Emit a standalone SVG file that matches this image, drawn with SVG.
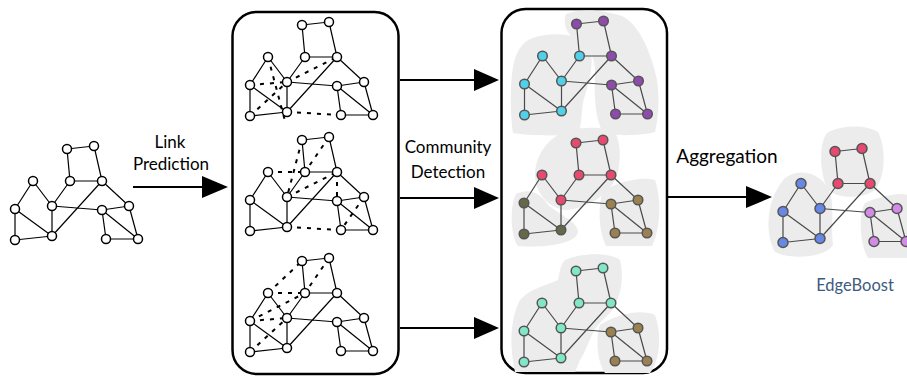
<svg xmlns="http://www.w3.org/2000/svg" xmlns:xlink="http://www.w3.org/1999/xlink" width="907" height="376" viewBox="0 0 907 376">
<style>
.lbl{font-family:Lato,"Open Sans","DejaVu Sans",sans-serif;fill:#000;text-anchor:middle}
.e{fill:none;stroke:#000;stroke-width:1.2}
.ec{fill:none;stroke:#4a4a4a;stroke-width:1.2}
.d{fill:none;stroke:#000;stroke-width:2;stroke-dasharray:4 6}
.wn{fill:#fff;stroke:#000;stroke-width:1.5}
.c circle{stroke:#555;stroke-width:1.5}
.blob{fill:#ececec}
.cy{fill:#50d0ea}.pu{fill:#8e4aad}.pk{fill:#e84a6f}.ol{fill:#666849}.br{fill:#9b8050}.mt{fill:#80e8c8}.bl{fill:#6888e8}.lv{fill:#d48be8}
.frame{fill:none;stroke:#000;stroke-width:2.5}
.arr{stroke:#000;stroke-width:2}
</style>
<defs>
<path id="edges" d="M67,149L94,146 M67,149L70,181 M94,146L102,181 M70,181L102,181 M70,181L52,206 M102,181L52,236 M102,181L129,206 M33,181L15,209 M33,181L52,206 M15,209L15,240 M15,209L52,236 M52,206L52,236 M52,206L102,210 M102,210L129,206 M102,210L106,239 M102,210L138,239 M129,206L138,239 M106,239L138,239 M15,240L52,236"/>
<g id="wnodes">
<circle cx="67" cy="149" r="4.5"/><circle cx="94" cy="146" r="4.5"/><circle cx="33" cy="181" r="4.5"/><circle cx="70" cy="181" r="4.5"/><circle cx="102" cy="181" r="4.5"/><circle cx="15" cy="209" r="4.5"/><circle cx="52" cy="206" r="4.5"/><circle cx="102" cy="210" r="4.5"/><circle cx="129" cy="206" r="4.5"/><circle cx="15" cy="240" r="4.5"/><circle cx="52" cy="236" r="4.5"/><circle cx="106" cy="239" r="4.5"/><circle cx="138" cy="239" r="4.5"/>
</g>
</defs>

<g id="input-graph">
<use xlink:href="#edges" href="#edges" class="e"/>
<use xlink:href="#wnodes" href="#wnodes" class="wn"/>
</g>

<g id="link-prediction-panel">
<rect class="frame" x="232.5" y="12" width="166" height="362" rx="24"/>
<g id="lp-graph-1" transform="translate(235,-124)">
<use xlink:href="#edges" href="#edges" class="e"/>
<path class="d" d="M15,209L52,206 M52,206L102,181 M33,181L50,245 M15,240L52,206 M52,236L106,239"/>
<use xlink:href="#wnodes" href="#wnodes" class="wn"/>
</g>
<g id="lp-graph-2" transform="translate(235,-9)">
<use xlink:href="#edges" href="#edges" class="e"/>
<path class="d" d="M67,149L52,206 M94,146L70,181 M33,181L70,181 M52,206L102,181 M102,181L102,210 M129,206L106,239 M52,236L106,239"/>
<use xlink:href="#wnodes" href="#wnodes" class="wn"/>
</g>
<g id="lp-graph-3" transform="translate(235,112)">
<use xlink:href="#edges" href="#edges" class="e"/>
<path class="d" d="M33,181L67,149 M94,146L70,181 M33,181L70,181 M15,209L52,206 M15,209L70,181 M15,240L52,206"/>
<use xlink:href="#wnodes" href="#wnodes" class="wn"/>
</g>
</g>

<g id="community-detection-panel">
<rect class="frame" x="501.5" y="9" width="165.5" height="364" rx="24"/>
<g id="cd-graph-1">
<path class="blob" d="M533,38 C550,32 575,33 587,43 C596,55 590,80 585,95 C580,110 583,122 578,134 C560,136 530,136 513,133 C510,110 510,80 514,62 C518,48 524,41 533,38 Z"/>
<path class="blob" d="M566,14 C580,8 605,10 622,16 C640,25 652,55 657,80 C660,100 658,120 655,132 C640,136 615,136 603,133 C596,120 594,100 595,80 C596,62 592,48 580,42 C568,37 562,25 566,14 Z"/>
<g class="c" transform="translate(509.5,-125)">
<use xlink:href="#edges" href="#edges" class="ec"/>
<circle class="pu" cx="67" cy="149" r="4.8"/><circle class="pu" cx="94" cy="146" r="4.8"/><circle class="cy" cx="33" cy="181" r="4.8"/><circle class="cy" cx="70" cy="181" r="4.8"/><circle class="pu" cx="102" cy="181" r="4.8"/><circle class="cy" cx="15" cy="209" r="4.8"/><circle class="cy" cx="52" cy="206" r="4.8"/><circle class="pu" cx="102" cy="210" r="4.8"/><circle class="pu" cx="129" cy="206" r="4.8"/><circle class="cy" cx="15" cy="240" r="4.8"/><circle class="cy" cx="52" cy="236" r="4.8"/><circle class="pu" cx="106" cy="239" r="4.8"/><circle class="pu" cx="138" cy="239" r="4.8"/>
</g>
</g>
<g id="cd-graph-2">
<path class="blob" d="M566,131 C585,126 605,127 615,132 C622,145 621,170 614,182 C605,196 585,210 565,210 C548,208 535,192 535,175 C535,155 548,138 566,131 Z"/>
<path class="blob" d="M516,194 C528,188 540,192 548,205 C560,215 578,222 578,232 C576,245 540,248 518,246 C510,235 510,205 516,194 Z"/>
<path class="blob" d="M603,190 C620,182 640,176 655,180 C662,200 660,230 652,246 L606,246 C598,230 598,205 603,190 Z"/>
<g class="c" transform="translate(509,-6)">
<use xlink:href="#edges" href="#edges" class="ec"/>
<circle class="pk" cx="67" cy="149" r="4.8"/><circle class="pk" cx="94" cy="146" r="4.8"/><circle class="pk" cx="33" cy="181" r="4.8"/><circle class="pk" cx="70" cy="181" r="4.8"/><circle class="pk" cx="102" cy="181" r="4.8"/><circle class="ol" cx="15" cy="209" r="4.8"/><circle class="pk" cx="52" cy="206" r="4.8"/><circle class="br" cx="102" cy="210" r="4.8"/><circle class="br" cx="129" cy="206" r="4.8"/><circle class="ol" cx="15" cy="240" r="4.8"/><circle class="ol" cx="52" cy="236" r="4.8"/><circle class="br" cx="106" cy="239" r="4.8"/><circle class="br" cx="138" cy="239" r="4.8"/>
</g>
</g>
<g id="cd-graph-3">
<path class="blob" d="M565,260 C585,252 610,253 620,260 C625,280 620,305 605,318 C590,330 590,345 580,360 L575,372 L515,372 C508,340 512,315 520,300 C530,288 548,285 558,280 C560,272 560,265 565,260 Z"/>
<path class="blob" d="M600,325 C615,315 640,308 655,315 C662,335 660,360 650,373 L605,373 C596,360 596,335 600,325 Z"/>
<g class="c" transform="translate(509,122)">
<use xlink:href="#edges" href="#edges" class="ec"/>
<circle class="mt" cx="67" cy="149" r="4.8"/><circle class="mt" cx="94" cy="146" r="4.8"/><circle class="mt" cx="33" cy="181" r="4.8"/><circle class="mt" cx="70" cy="181" r="4.8"/><circle class="mt" cx="102" cy="181" r="4.8"/><circle class="mt" cx="15" cy="209" r="4.8"/><circle class="mt" cx="52" cy="206" r="4.8"/><circle class="br" cx="102" cy="210" r="4.8"/><circle class="br" cx="129" cy="206" r="4.8"/><circle class="mt" cx="15" cy="240" r="4.8"/><circle class="mt" cx="52" cy="236" r="4.8"/><circle class="br" cx="106" cy="239" r="4.8"/><circle class="br" cx="138" cy="239" r="4.8"/>
</g>
</g>
</g>

<g id="output-graph">
<path class="blob" d="M827,133 C840,125 865,124 878,132 C886,148 886,175 875,190 C865,198 840,200 828,190 C820,175 818,145 827,133 Z"/>
<path class="blob" d="M785,178 C800,168 818,172 828,188 C836,205 830,225 833,245 C825,258 790,260 775,252 C765,235 765,200 785,178 Z"/>
<path class="blob" d="M865,203 C880,196 900,192 907,195 L907,258 L868,258 C860,245 858,215 865,203 Z"/>
<g class="c" transform="translate(768,2.5)">
<use xlink:href="#edges" href="#edges" class="ec"/>
<circle class="pk" cx="67" cy="149" r="5"/><circle class="pk" cx="94" cy="146" r="5"/><circle class="bl" cx="33" cy="181" r="5"/><circle class="pk" cx="70" cy="181" r="5"/><circle class="pk" cx="102" cy="181" r="5"/><circle class="bl" cx="15" cy="209" r="5"/><circle class="bl" cx="52" cy="206" r="5"/><circle class="lv" cx="102" cy="210" r="5"/><circle class="lv" cx="129" cy="206" r="5"/><circle class="bl" cx="15" cy="240" r="5"/><circle class="bl" cx="52" cy="236" r="5"/><circle class="lv" cx="106" cy="239" r="5"/><circle class="lv" cx="138" cy="239" r="5"/>
</g>
<text class="lbl" x="855" y="291" font-size="16.5" style="fill:#3e5b80">EdgeBoost</text>
</g>

<g id="connectors">
<line class="arr" x1="133" y1="187" x2="204" y2="187"/><polygon points="202,176 228,187 202,198"/>
<line class="arr" x1="400" y1="80" x2="476" y2="80"/><polygon points="474,69 499,80 474,91"/>
<line class="arr" x1="400" y1="198" x2="476" y2="198"/><polygon points="474,187 499,198 474,209"/>
<line class="arr" x1="400" y1="328" x2="476" y2="328"/><polygon points="474,317 499,328 474,339"/>
<line class="arr" x1="668" y1="197" x2="748" y2="197"/><polygon points="746,186 772,197 746,208"/>
</g>

<g id="labels">
<text class="lbl" x="170" y="148" font-size="17">Link</text>
<text class="lbl" x="171" y="170" font-size="17">Prediction</text>
<text class="lbl" x="448" y="153" font-size="17">Community</text>
<text class="lbl" x="448" y="178" font-size="17">Detection</text>
<text class="lbl" x="727" y="163" font-size="19">Aggregation</text>
</g>
</svg>
